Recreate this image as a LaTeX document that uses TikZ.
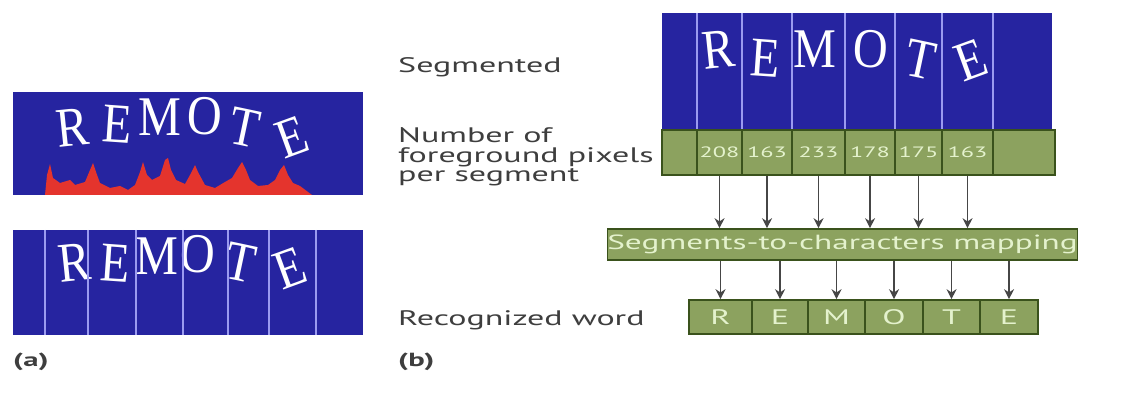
\documentclass[tikz,border=0pt]{standalone}
\usepackage{fontspec}
\setmainfont{PT Sans}[FakeStretch=1.62]
\newfontfamily\capfont{Liberation Serif}[FakeStretch=0.86]
\usetikzlibrary{arrows.meta}
\definecolor{capblue}{RGB}{38,36,160}
\definecolor{segblue}{RGB}{155,155,240}
\definecolor{histred}{RGB}{228,52,45}
\definecolor{greenfill}{RGB}{140,162,95}
\definecolor{greenline}{RGB}{58,82,28}
\definecolor{greentext}{RGB}{228,242,205}
\definecolor{labelgray}{RGB}{62,62,62}
\definecolor{arrowgray}{RGB}{70,70,70}
\begin{document}
\begin{tikzpicture}[x=1pt,y=-1pt,
    lbl/.style={text=labelgray,inner sep=0pt,font=\fontsize{21}{19.5}\selectfont},
    tag/.style={text=labelgray,inner sep=0pt,font=\bfseries\fontsize{19}{19}\selectfont},
    glyph/.style={text=white,inner sep=0pt,font=\capfont\fontsize{56}{56}\selectfont},
    cell/.style={draw=greenline,line width=1.6pt,fill=greenfill,text=greentext,
      inner sep=0pt,minimum height=45pt},
    letterbox/.style={cell,minimum height=34pt,font=\fontsize{21}{21}\selectfont},
    segline/.style={draw=segblue,line width=1.5pt},
    arr/.style={draw=arrowgray,line width=1.4pt,-{Stealth[length=10pt,width=10pt]}}]
  \useasboundingbox (0,0) rectangle (1127,403);

  % (a) captcha with histogram
  \fill[capblue] (13,92) rectangle (363,195);
  \fill[histred] (45,195) -- (47,175) -- (50,164) -- (53,178) -- (60,183) -- (70,180)
    -- (75,185) -- (85,182) -- (90,170) -- (93,163) -- (96,172) -- (100,183)
    -- (110,188) -- (120,186) -- (128,190) -- (135,185) -- (140,172) -- (143,162)
    -- (147,175) -- (152,180) -- (160,176) -- (165,160) -- (168,158) -- (171,170)
    -- (176,180) -- (185,184) -- (190,175) -- (195,165) -- (198,172) -- (205,185)
    -- (215,188) -- (225,182) -- (232,178) -- (238,168) -- (242,162) -- (246,170)
    -- (250,180) -- (258,186) -- (268,185) -- (275,180) -- (280,170) -- (284,165)
    -- (288,175) -- (293,183) -- (300,186) -- (308,192) -- (312,195) -- cycle;
  \draw
    (73,128) node[glyph,rotate=6] (a1) {R}
    (117,124) node[glyph,rotate=-4] (a2) {E}
    (160,117) node[glyph] (a3) {M}
    (205,116) node[glyph,rotate=-3] (a4) {O}
    (245,128) node[glyph,rotate=-12] (a5) {T}
    (292,137) node[glyph,rotate=20] (a6) {E};

  % (a) segmented captcha
  \fill[capblue] (13,230) rectangle (363,335);
  \draw
    (75,263) node[glyph,rotate=6] (b1) {R}
    (115,263) node[glyph,rotate=-4] (b2) {E}
    (157,256) node[glyph] (b3) {M}
    (198,254) node[glyph,rotate=-3] (b4) {O}
    (241,263) node[glyph,rotate=-12] (b5) {T}
    (290,268) node[glyph,rotate=20] (b6) {E};
  \begin{scope}[segline]
    \draw (45,230) -- (45,335);
    \draw (88,230) -- (88,335);
    \draw (136,230) -- (136,335);
    \draw (183,230) -- (183,335);
    \draw (228,230) -- (228,335);
    \draw (269,230) -- (269,335);
    \draw (316,230) -- (316,335);
  \end{scope}
  \node[tag,anchor=west] (taga) at (13,362) {(a)};

  % (b) labels
  \node[lbl,anchor=base west] (seg) at (398,73) {Segmented};
  \node[lbl,anchor=west,align=left] (cnt) at (398,157) {Number of\\foreground pixels\\per segment};
  \node[lbl,anchor=base west] (rec) at (398,325) {Recognized word};
  \node[tag,anchor=west] (tagb) at (398,362) {(b)};

  % (b) segmented captcha
  \fill[capblue] (662,13) rectangle (1052,130);
  \draw
    (719,50) node[glyph,rotate=6] (c1) {R}
    (765,58) node[glyph,rotate=-4] (c2) {E}
    (815,49) node[glyph] (c3) {M}
    (871,49) node[glyph,rotate=-3] (c4) {O}
    (921,60) node[glyph,rotate=-12] (c5) {T}
    (971,60) node[glyph,rotate=20] (c6) {E};
  \begin{scope}[segline]
    \draw (697,13) -- (697,130);
    \draw (742,13) -- (742,130);
    \draw (792,13) -- (792,130);
    \draw (845,13) -- (845,130);
    \draw (895,13) -- (895,130);
    \draw (942,13) -- (942,130);
    \draw (993,13) -- (993,130);
  \end{scope}

  % pixel counts
  \begin{scope}[font=\fontsize{15}{15}\selectfont]
    \node[cell,minimum width=35pt] (n0) at (679.5,152.5) {};
    \node[cell,minimum width=45pt] (n1) at (719.5,152.5) {208};
    \node[cell,minimum width=50pt] (n2) at (767,152.5) {163};
    \node[cell,minimum width=53pt] (n3) at (818.5,152.5) {233};
    \node[cell,minimum width=50pt] (n4) at (870,152.5) {178};
    \node[cell,minimum width=47pt] (n5) at (918.5,152.5) {175};
    \node[cell,minimum width=51pt] (n6) at (967.5,152.5) {163};
    \node[cell,minimum width=62pt] (n7) at (1024,152.5) {};
  \end{scope}

  % mapping
  \node[cell,minimum width=461pt,minimum height=31pt,
    font=\fontsize{20.5}{20.5}\selectfont] (m) at (842.5,244.5) {Segments-to-characters mapping};

  % recognized word
  \node[letterbox,minimum width=63pt] (w1) at (720.5,317) {R};
  \node[letterbox,minimum width=56pt] (w2) at (780,317) {E};
  \node[letterbox,minimum width=57pt] (w3) at (836.5,317) {M};
  \node[letterbox,minimum width=58pt] (w4) at (894,317) {O};
  \node[letterbox,minimum width=57pt] (w5) at (951.5,317) {T};
  \node[letterbox,minimum width=58pt] (w6) at (1009,317) {E};

  \begin{scope}[arr]
    \draw (n1.south) -- (n1.south |- m.north);
    \draw (n2.south) -- (n2.south |- m.north);
    \draw (n3.south) -- (n3.south |- m.north);
    \draw (n4.south) -- (n4.south |- m.north);
    \draw (n5.south) -- (n5.south |- m.north);
    \draw (n6.south) -- (n6.south |- m.north);
    \draw (w1.north |- m.south) -- (w1.north);
    \draw (w2.north |- m.south) -- (w2.north);
    \draw (w3.north |- m.south) -- (w3.north);
    \draw (w4.north |- m.south) -- (w4.north);
    \draw (w5.north |- m.south) -- (w5.north);
    \draw (w6.north |- m.south) -- (w6.north);
  \end{scope}
\end{tikzpicture}
\end{document}
